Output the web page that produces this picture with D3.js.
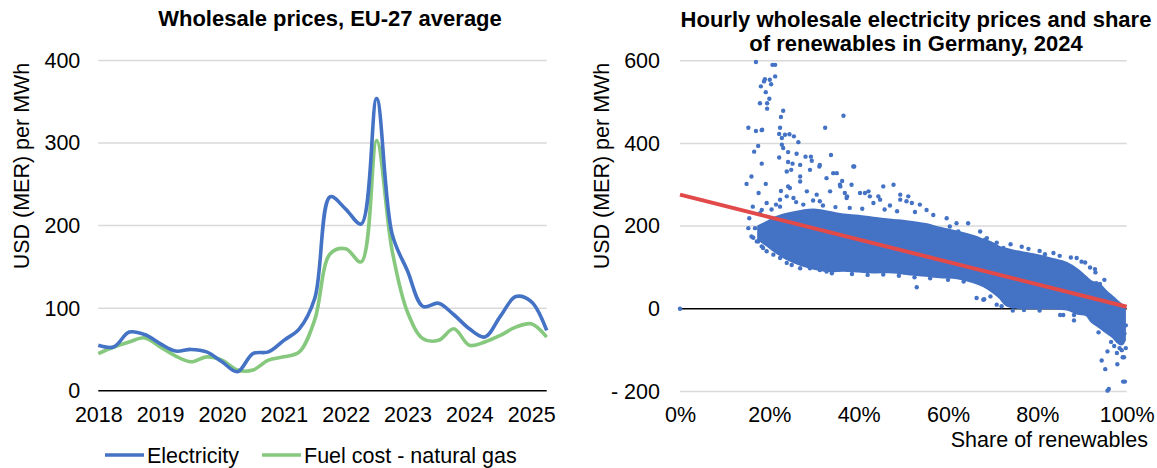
<!DOCTYPE html>
<html>
<head>
<meta charset="utf-8">
<script src="https://cdn.jsdelivr.net/npm/d3@7"></script>
<style>
  html, body { margin: 0; padding: 0; background: #ffffff; }
  svg { display: block; font-family: "Liberation Sans", Arial, sans-serif; }
</style>
</head>
<body>
<svg id="chart" width="1157" height="468"></svg>
<script>
// ---------------- DATA ----------------
// Left chart: quarterly, 2018 Q1 .. 2025 Q2
const quarters = d3.range(30);
const yearLabels = ["2018","2019","2020","2021","2022","2023","2024","2025"];
const electricity = [55, 53, 71, 68, 57, 48, 50, 47, 35, 23, 45, 47, 61, 75, 112, 235, 220, 202, 354, 190, 145, 102, 106, 92, 75, 65, 90, 114, 108, 73];
const naturalGas  = [45, 53, 59, 64, 53, 42, 35, 41, 37, 25, 25, 37, 41, 47, 86, 166, 172, 156, 303, 170, 95, 63, 61, 75, 55, 59, 67, 77, 81, 65];
const leftYTicks = [0, 100, 200, 300, 400];

// Right chart: dense cloud envelope (share %, lower price, upper price)
const cloudShare = [17.5, 19.4, 21, 23.9, 27.6, 30, 33.6, 36.6, 40, 43.3, 47.8, 50.7, 55, 58.2, 62, 65.7, 68, 70, 71.6, 73, 75, 79.1, 83, 86.6, 89, 91, 92, 94, 95.5, 97, 98, 99, 99.6];
const cloudLow   = [168, 153, 140, 120, 104, 97, 91, 92, 90, 88, 88, 84, 80, 76, 74, 64, 54, 40, 26, 9, 3, 1, 1, -2, -12, -16, -30, -46, -58, -70, -82, -86, -76];
const cloudHigh  = [200, 210, 220, 230, 238, 240, 234, 228, 225, 220, 215, 212, 205, 196, 187, 176, 167, 159, 149, 145, 140, 132, 122, 111, 95, 76, 67, 58, 42, 28, 18, 9, 4];

// Right chart: individually visible hourly points (share %, price)
const hourlyPoints = [
  [0,0],
  [17.0,597],[20.7,590],[21.3,590],[19.0,555],[20.1,554],[18.8,550],[21.3,562],[18.1,538],[20.4,543],
  [19.2,524],[20.0,508],[17.9,497],[19.5,497],[19.5,484],[23.1,479],[22.6,464],[36.6,467],
  [15.3,438],[17.0,430],[18.3,432],[18.4,433],[22.4,438],[32.5,438],[22.2,423],[23.5,421],[24.5,422],
  [25.5,417],[22.8,413],[26.5,403],[17.5,394],[16.6,380],[22.8,397],[23.1,389],[24.2,379],[22.2,366],
  [26.1,375],[28.1,368],[29.3,368],[29.5,358],[33.8,372],[18.3,351],[24.2,355],[25.2,351],[16.0,320],
  [14.9,302],[19.2,302],[22.6,285],[38.8,344],[31.2,344],[34.3,328],[24.2,296],[26.9,320],[35.9,296],
  [37.4,272],[40.3,280],[42.5,272],[22.4,264],[23.9,272],[38.4,300],[42.2,284],[44.4,272],[45.5,296],
  [47.8,300],[49.3,264],[51.1,272],[39.0,344],[36.3,309],[36.9,280],[41.4,280],[43.3,256],[44.8,264],
  [49.3,276],[50.7,260],[51.9,256],[53.7,252],[60.4,199],[62.3,187],[64.5,207],[68.3,167],[70.5,151],[72.4,147],
  [23.9,332],[24.9,336],[26.9,348],[29.1,336],[31.3,348],[32.8,316],[35.1,328],[35.8,300],[26.9,308],
  [24.6,292],[28.4,284],[30.6,276],[33.6,284],[31.3,260],[27.6,252],[25.4,268],[22.4,247],[37.3,268],
  [20.5,240],[21.5,252],[26.0,258],[29.8,262],[32.0,250],[34.8,246],[38.0,244],[40.8,242],[45.8,240],
  [47.0,250],[48.6,236],[52.6,234],[55.2,239],[56.7,227],[59.7,219],[61.9,207],[67.2,187],[68.7,171],
  [70.9,160],[74.0,156],[76.5,150],[80.5,140],[85.0,128],[87.5,124],[91.8,100],[93.0,88],[95.0,70],
  [15.3,195],[16.8,195],[15.5,219],[16.0,175],[17.5,163],[18.6,147],[16.3,247],[17.6,280],[18.3,239],
  [17.9,231],[19.4,256],[16.4,172],[17.2,163],[18.3,151],[19.4,139],[20.9,131],[22.4,123],[23.9,111],
  [25.0,106],[26.9,98],[29.1,98],[31.3,94],[32.8,90],[34.0,86],[38.5,84],[42.0,82],[45.5,83],[49.0,80],
  [52.5,76],[56.0,74],[60.0,70],[63.5,66],
  [53.0,52],[66.4,26],[68.1,23],[70.9,10],[72.0,6],[67.9,22],[69.5,30],[74.5,-4],[77.0,-3],[80.5,-4],
  [78.0,145],[81.7,132],[83.6,135],[88.8,123],[89.9,114],[90.7,112],[92.9,96],[93.2,62],[94.0,60],
  [85.1,-15],[85.8,-15],[88.2,-15],[88.2,-28],[93.7,-57],[95.7,-103],[94.4,-125],[95.2,-146],[97.9,-134],
  [97.8,-107],[98.4,-95],[99.1,-117],[99.4,-117],[99.8,-95],[99.2,-176],[99.6,-176],[95.7,-198],[96.0,-194],[98.6,-83],
  [96.5,-80],[97.2,-90],[98.9,-100],[99.5,-60],[99.8,-40]
];
// Linear trend line endpoints (share %, price)
const trendShare = [0, 100];
const trendPrice = [276, 5];
const rightYTicks = [-200, 0, 200, 400, 600];
const rightXTicks = [0, 20, 40, 60, 80, 100];

// ---------------- STYLE ----------------
const BLUE = "#4472C4", GREEN = "#86C97E", RED = "#E24A4A", GRID = "#D9D9D9";
const FS = 21.5;
const FF = "Liberation Sans, Arial, sans-serif";

const svg = d3.select("#chart");

// ================= LEFT CHART =================
const lx = d3.scaleLinear().domain([0, 29]).range([98.3, 546.7]);
const ly = d3.scaleLinear().domain([0, 400]).range([390.7, 60.5]);

svg.append("text").attr("x", 330).attr("y", 26).attr("text-anchor", "middle")
  .attr("font-size", 22).attr("font-weight", "bold").text("Wholesale prices, EU-27 average");

const lg = svg.append("g");
lg.selectAll("line.grid").data(leftYTicks.filter(d => d !== 0)).enter().append("line")
  .attr("x1", lx.range()[0]).attr("x2", lx.range()[1])
  .attr("y1", d => ly(d)).attr("y2", d => ly(d))
  .attr("stroke", GRID).attr("stroke-width", 1.5);

const lyAxis = d3.axisLeft(ly).tickValues(leftYTicks).tickSize(0).tickPadding(18);
lg.append("g").attr("transform", `translate(${lx.range()[0]},0)`).call(lyAxis)
  .call(g => g.select(".domain").remove())
  .call(g => g.selectAll("text").attr("font-size", FS).attr("fill", "#000").attr("font-family", FF));

lg.append("line").attr("x1", lx.range()[0]).attr("x2", lx.range()[1])
  .attr("y1", ly(0)).attr("y2", ly(0)).attr("stroke", "#000").attr("stroke-width", 1.6);

const lxAxis = d3.axisBottom(lx).tickValues(yearLabels.map((d, i) => i * 4))
  .tickFormat((d) => yearLabels[d / 4]).tickSize(0).tickPadding(16);
lg.append("g").attr("transform", `translate(0,${ly(0)})`).call(lxAxis)
  .call(g => g.select(".domain").remove())
  .call(g => g.selectAll("text").attr("font-size", FS).attr("fill", "#000").attr("font-family", FF));

const lineGen = arr => d3.line().x((d, i) => lx(quarters[i])).y(d => ly(d)).curve(d3.curveCatmullRom.alpha(0.5))(arr);
lg.append("path").attr("d", lineGen(naturalGas)).attr("fill", "none").attr("stroke", GREEN).attr("stroke-width", 3.6).attr("stroke-linejoin", "round");
lg.append("path").attr("d", lineGen(electricity)).attr("fill", "none").attr("stroke", BLUE).attr("stroke-width", 3.6).attr("stroke-linejoin", "round");

svg.append("text").attr("transform", "translate(29,166) rotate(-90)").attr("text-anchor", "middle")
  .attr("font-size", FS).text("USD (MER) per MWh");

// legend
const legendItems = [{name: "Electricity", color: BLUE, x: 105}, {name: "Fuel cost - natural gas", color: GREEN, x: 262}];
const leg = svg.append("g");
legendItems.forEach(it => {
  leg.append("line").attr("x1", it.x).attr("x2", it.x + 39).attr("y1", 455).attr("y2", 455)
    .attr("stroke", it.color).attr("stroke-width", 3.6);
  leg.append("text").attr("x", it.x + 42).attr("y", 462.5).attr("font-size", FS).text(it.name);
});

// ================= RIGHT CHART =================
const rx = d3.scaleLinear().domain([0, 100]).range([680, 1126.7]);
const ry = d3.scaleLinear().domain([-200, 600]).range([391.5, 60.7]);

const rt = svg.append("text").attr("text-anchor", "middle").attr("font-size", 22).attr("font-weight", "bold");
rt.append("tspan").attr("x", 916).attr("y", 27).text("Hourly wholesale electricity prices and share");
rt.append("tspan").attr("x", 916).attr("y", 51).text("of renewables in Germany, 2024");

const rg = svg.append("g");
rg.selectAll("line.grid").data(rightYTicks.filter(d => d !== 0)).enter().append("line")
  .attr("x1", rx.range()[0]).attr("x2", rx.range()[1])
  .attr("y1", d => ry(d)).attr("y2", d => ry(d))
  .attr("stroke", GRID).attr("stroke-width", 1.5);

const ryAxis = d3.axisLeft(ry).tickValues(rightYTicks).tickSize(0).tickPadding(20)
  .tickFormat(d => d < 0 ? "- " + Math.abs(d) : String(d));
rg.append("g").attr("transform", `translate(${rx.range()[0]},0)`).call(ryAxis)
  .call(g => g.select(".domain").remove())
  .call(g => g.selectAll("text").attr("font-size", FS).attr("fill", "#000").attr("font-family", FF));

const rxAxis = d3.axisBottom(rx).tickValues(rightXTicks).tickFormat(d => d + "%").tickSize(0).tickPadding(0);
rg.append("g").attr("transform", `translate(0,${ry(-200) + 15})`).call(rxAxis)
  .call(g => g.select(".domain").remove())
  .call(g => g.selectAll("text").attr("font-size", FS).attr("fill", "#000").attr("font-family", FF));

svg.append("text").attr("x", 1148).attr("y", 447).attr("text-anchor", "end").attr("font-size", FS).text("Share of renewables");
svg.append("text").attr("transform", "translate(609,166) rotate(-90)").attr("text-anchor", "middle")
  .attr("font-size", FS).text("USD (MER) per MWh");

// zero line
rg.append("line").attr("x1", rx.range()[0]).attr("x2", rx.range()[1])
  .attr("y1", ry(0)).attr("y2", ry(0)).attr("stroke", "#000").attr("stroke-width", 1.6);

// dense cloud
const cloud = cloudShare.map((s, i) => ({s, lo: cloudLow[i], hi: cloudHigh[i]}));
rg.append("path").datum(cloud)
  .attr("d", d3.area().x(d => rx(d.s)).y0(d => ry(d.lo)).y1(d => ry(d.hi)).curve(d3.curveCatmullRom))
  .attr("fill", BLUE).attr("stroke", BLUE).attr("stroke-width", 2).attr("stroke-linejoin", "round");

rg.selectAll("circle.pt").data(hourlyPoints).enter().append("circle")
  .attr("cx", d => rx(d[0])).attr("cy", d => ry(d[1])).attr("r", 2.2).attr("fill", BLUE);

rg.append("line").attr("x1", rx(trendShare[0])).attr("x2", rx(trendShare[1]))
  .attr("y1", ry(trendPrice[0])).attr("y2", ry(trendPrice[1]))
  .attr("stroke", RED).attr("stroke-width", 4);
</script>
</body>
</html>
